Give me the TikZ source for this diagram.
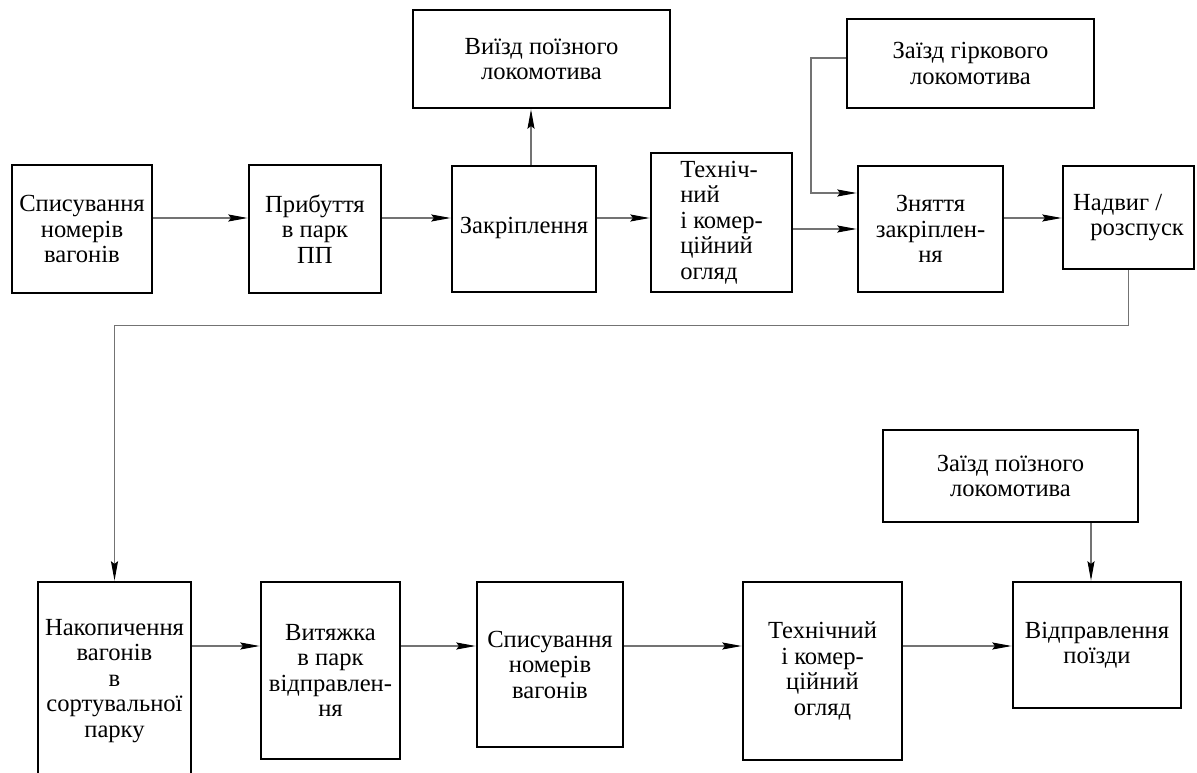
\documentclass[tikz,border=0pt]{standalone}
\usepackage{fontspec}
\setmainfont{Liberation Serif}
\usepackage{tikz}
\usetikzlibrary{arrows.meta,calc}
\tikzset{
  stage/.style={
    draw,
    line width=1.6pt,
    align=center,
    inner sep=0pt,
    font=\fontsize{14}{14.5}\selectfont
  },
  flow/.style={
    draw=black!55,
    line width=0.6pt,
    -{Stealth[length=11pt,width=4pt,inset=1.5pt,color=black]}
  }
}
\begin{document}
\begin{tikzpicture}[x=0.02cm,y=-0.02cm]
    \useasboundingbox (0,0) rectangle (1197,773);
    \clip (0,0) rectangle (1197,773);

    \node[stage, minimum width=2.80cm, minimum height=2.56cm] (spys1) at (82,229)
      {Списування\\номерів\\вагонів};
    \node[stage, minimum width=2.64cm, minimum height=2.56cm] (prybut) at (315,229)
      {Прибуття\\в парк\\ПП};
    \node[stage, minimum width=2.88cm, minimum height=2.52cm] (zakr) at (524,229)
      {\raisebox{1.5mm}{Закріплення}};
    \node[stage, align=left, minimum width=2.82cm, minimum height=2.78cm] (ogliad1) at (721.5,222.5)
      {Техніч-\\ний\\і комер-\\ційний\\огляд};
    \node[stage, minimum width=5.14cm, minimum height=1.96cm] (vyizd) at (541.5,59)
      {Виїзд поїзного\\локомотива};
    \node[stage, minimum width=4.94cm, minimum height=1.78cm] (girk) at (970.5,63.5)
      {Заїзд гіркового\\локомотива};
    \node[stage, minimum width=2.90cm, minimum height=2.52cm] (zniattia) at (930.5,229)
      {Зняття\\закріплен-\\ня};
    \node[stage, align=left, minimum width=2.62cm, minimum height=2.06cm] (nadvyg) at (1128.5,217.5)
      {Надвиг /\\\hspace*{0.7em}розспуск};

    \node[stage, minimum width=3.06cm, minimum height=3.96cm] (nakop) at (114.5,681)
      {Накопичення\\вагонів\\в\\сортувальної\\парку};
    \node[stage, minimum width=2.78cm, minimum height=3.54cm] (vytiazhka) at (330.5,670.5)
      {Витяжка\\в парк\\відправлен-\\ня};
    \node[stage, minimum width=2.92cm, minimum height=3.30cm] (spys2) at (550,664.5)
      {Списування\\номерів\\вагонів};
    \node[stage, minimum width=3.18cm, minimum height=3.56cm] (ogliad2) at (822.5,671)
      {Технічний\\і комер-\\ційний\\огляд};
    \node[stage, minimum width=5.10cm, minimum height=1.84cm] (zaizd) at (1010.5,476)
      {Заїзд поїзного\\локомотива};
    \node[stage, minimum width=3.36cm, minimum height=2.52cm] (vidpr) at (1097,645)
      {Відправлення\\поїзди};

    \coordinate (row1) at (0,218);
    \coordinate (row1b) at (0,229);
    \coordinate (rowin) at (0,193);
    \coordinate (row2) at (0,646);
    \coordinate (zakrtop) at ($(zakr.north)+(7,0)$);
    \coordinate (girkout) at ($(girk.west)+(0,-5.5)$);
    \coordinate (girkbend) at (811,0);
    \coordinate (vidprtop) at ($(vidpr.north)+(-6,0)$);

    \draw[flow] (spys1.east |- row1) -- (prybut.west |- row1);
    \draw[flow] (prybut.east |- row1) -- (zakr.west |- row1);
    \draw[flow] (zakr.east |- row1) -- (ogliad1.west |- row1);
    \draw[flow] (ogliad1.east |- row1b) -- (zniattia.west |- row1b);
    \draw[flow] (zniattia.east |- row1) -- (nadvyg.west |- row1);
    \draw[flow] (zakrtop) -- (zakrtop |- vyizd.south);
    \draw[flow] (girkout) -- (girkbend |- girkout) -- (girkbend |- rowin) -- (zniattia.west |- rowin);
    \draw[flow] (nadvyg.south) -- ++(0,55) -| (nakop.north);

    \draw[flow] (nakop.east |- row2) -- (vytiazhka.west |- row2);
    \draw[flow] (vytiazhka.east |- row2) -- (spys2.west |- row2);
    \draw[flow] (spys2.east |- row2) -- (ogliad2.west |- row2);
    \draw[flow] (ogliad2.east |- row2) -- (vidpr.west |- row2);
    \draw[flow] (vidprtop |- zaizd.south) -- (vidprtop);
\end{tikzpicture}
\end{document}
